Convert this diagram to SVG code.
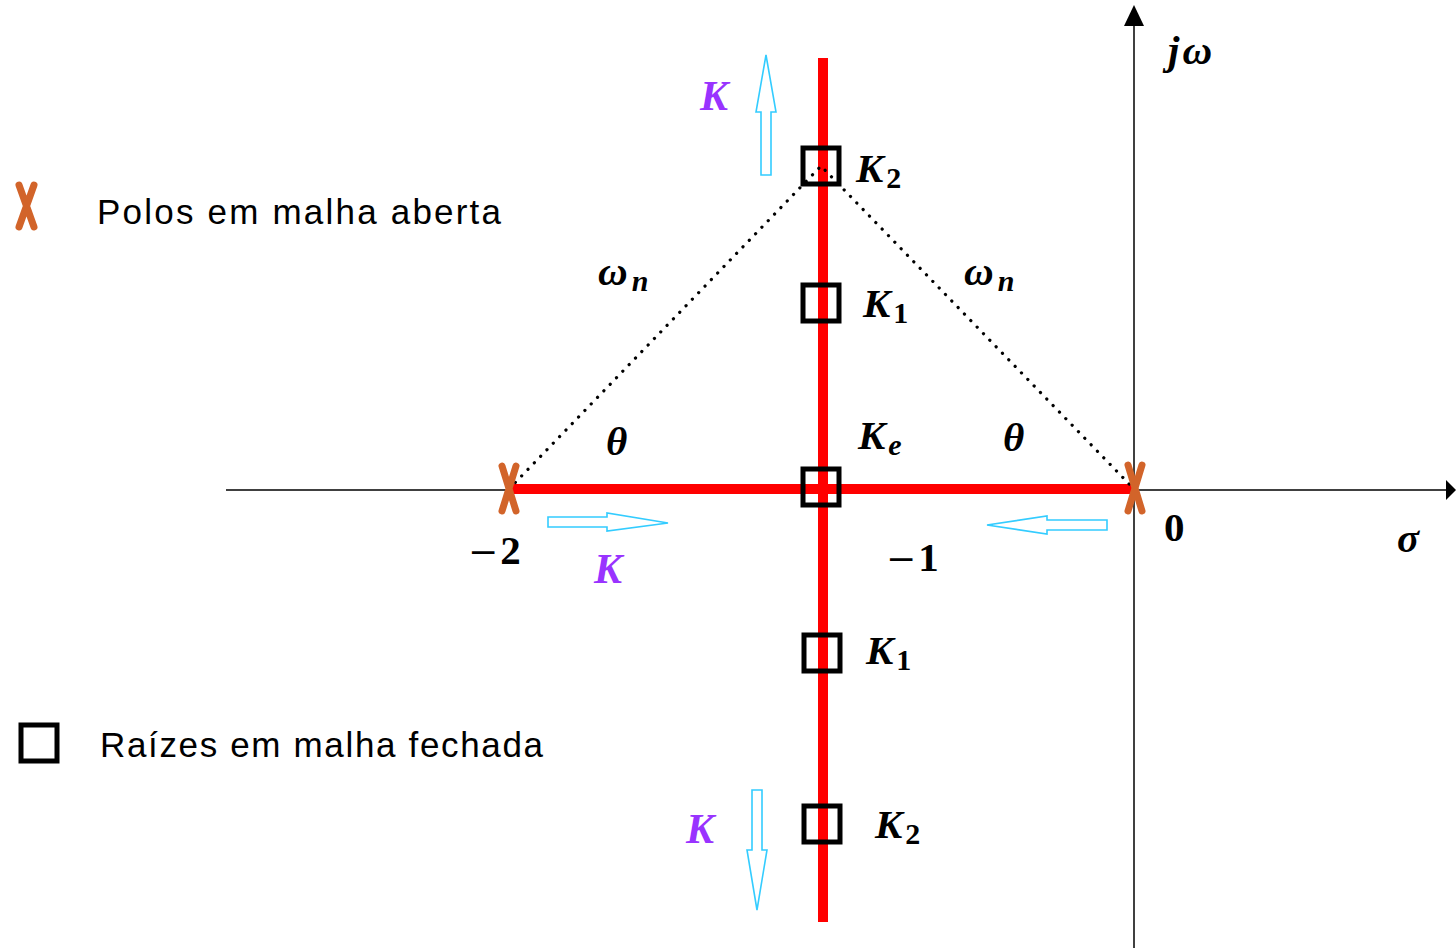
<svg xmlns="http://www.w3.org/2000/svg" width="1456" height="948" viewBox="0 0 1456 948">
<style>
.axis{stroke:#000;stroke-width:1.5;fill:none}
.locus{stroke:#ff0000;stroke-width:10;fill:none}
.sq{fill:none;stroke:#000;stroke-width:5}
.pole{stroke:#d2642a;stroke-width:7;stroke-linecap:round;fill:none}
.dot{stroke:#000;stroke-width:3.2;stroke-dasharray:0.1 9;stroke-linecap:round;fill:none}
.carrow{fill:#fff;stroke:#33ccff;stroke-width:1.6}
.m{font-family:"Liberation Serif",serif;font-style:italic;font-weight:bold;font-size:41px;fill:#000}
.n{font-family:"Liberation Serif",serif;font-weight:bold;font-size:41px;fill:#000}
.minus{font-family:"DejaVu Serif",serif;font-weight:normal;font-size:36px}
.k{font-family:"Liberation Serif",serif;font-style:italic;font-weight:bold;font-size:42px;fill:#9933ff}
.sub{font-size:30px}
.dig{font-style:normal}
.leg{font-family:"Liberation Sans",sans-serif;font-size:35px;fill:#000}
</style>
<g id="connectors">
<path class="axis" d="M226,490 H1446"/>
<path d="M1446,480 L1456,490 L1446,500 Z" fill="#000"/>
<path class="axis" d="M1134,948 V24"/>
<path d="M1124,26 L1134,5 L1144,26 Z" fill="#000"/>
<path class="locus" d="M823,58 V922"/>
<path class="locus" d="M509,489 H1134"/>
<path class="dot" d="M509,489 L821,166 L1134,489"/>
<path class="carrow" d="M761,175 V112 L756,112 L766,55 L776,112 L771,112 V175 Z"/>
<path class="carrow" d="M752,790 V850 L747,850 L757,910 L767,850 L762,850 V790 Z"/>
<path class="carrow" d="M548,517 H607 V513 L668,523 L607,531 V527 H548 Z"/>
<path class="carrow" d="M1107,520 H1047 V516 L987,525 L1047,534 V530 H1107 Z"/>
</g>
<g id="pole-left"><path class="pole" d="M502,466 L516,511 M516,466 L502,511"/></g>
<g id="pole-right"><path class="pole" d="M1142,465 L1128,511 M1128,465 L1142,511"/></g>
<g id="root-K2-top"><rect class="sq" x="803" y="148" width="36" height="36"/><text class="m" x="856" y="182">K<tspan class="sub dig" dx="3" dy="6">2</tspan></text></g>
<g id="root-K1-top"><rect class="sq" x="803" y="285" width="36" height="36"/><text class="m" x="863" y="317">K<tspan class="sub dig" dx="3" dy="6">1</tspan></text></g>
<g id="root-Ke"><rect class="sq" x="803" y="469" width="36" height="36"/><text class="m" x="858" y="449">K<tspan class="sub" dx="3" dy="6">e</tspan></text></g>
<g id="root-K1-bottom"><rect class="sq" x="804" y="635" width="36" height="36"/><text class="m" x="866" y="664">K<tspan class="sub dig" dx="3" dy="6">1</tspan></text></g>
<g id="root-K2-bottom"><rect class="sq" x="804" y="806" width="36" height="36"/><text class="m" x="875" y="838">K<tspan class="sub dig" dx="3" dy="6">2</tspan></text></g>
<g id="labels">
<text class="k" x="700" y="110">K</text>
<text class="k" x="594" y="583">K</text>
<text class="k" x="686" y="843">K</text>
<text class="m" x="598" y="285">ω<tspan class="sub" dx="4" dy="6">n</tspan></text>
<text class="m" x="964" y="285">ω<tspan class="sub" dx="4" dy="6">n</tspan></text>
<text class="m" x="606" y="455">θ</text>
<text class="m" x="1003" y="451">θ</text>
<text class="n" x="468" y="564"><tspan class="minus">−</tspan><tspan dx="2">2</tspan></text>
<text class="n" x="886" y="571"><tspan class="minus">−</tspan><tspan dx="2">1</tspan></text>
<text class="n" x="1164" y="541">0</text>
<text class="m" x="1397" y="552">σ</text>
<text class="m" x="1168" y="64">j<tspan dx="3">ω</tspan></text>
</g>
<g id="legend-poles"><path class="pole" d="M19,185 L34,227 M34,185 L19,227"/><text class="leg" x="97" y="224" textLength="404">Polos em malha aberta</text></g>
<g id="legend-roots"><rect class="sq" x="21" y="725" width="36" height="36"/><text class="leg" x="100" y="757" textLength="443">Raízes em malha fechada</text></g>
</svg>
